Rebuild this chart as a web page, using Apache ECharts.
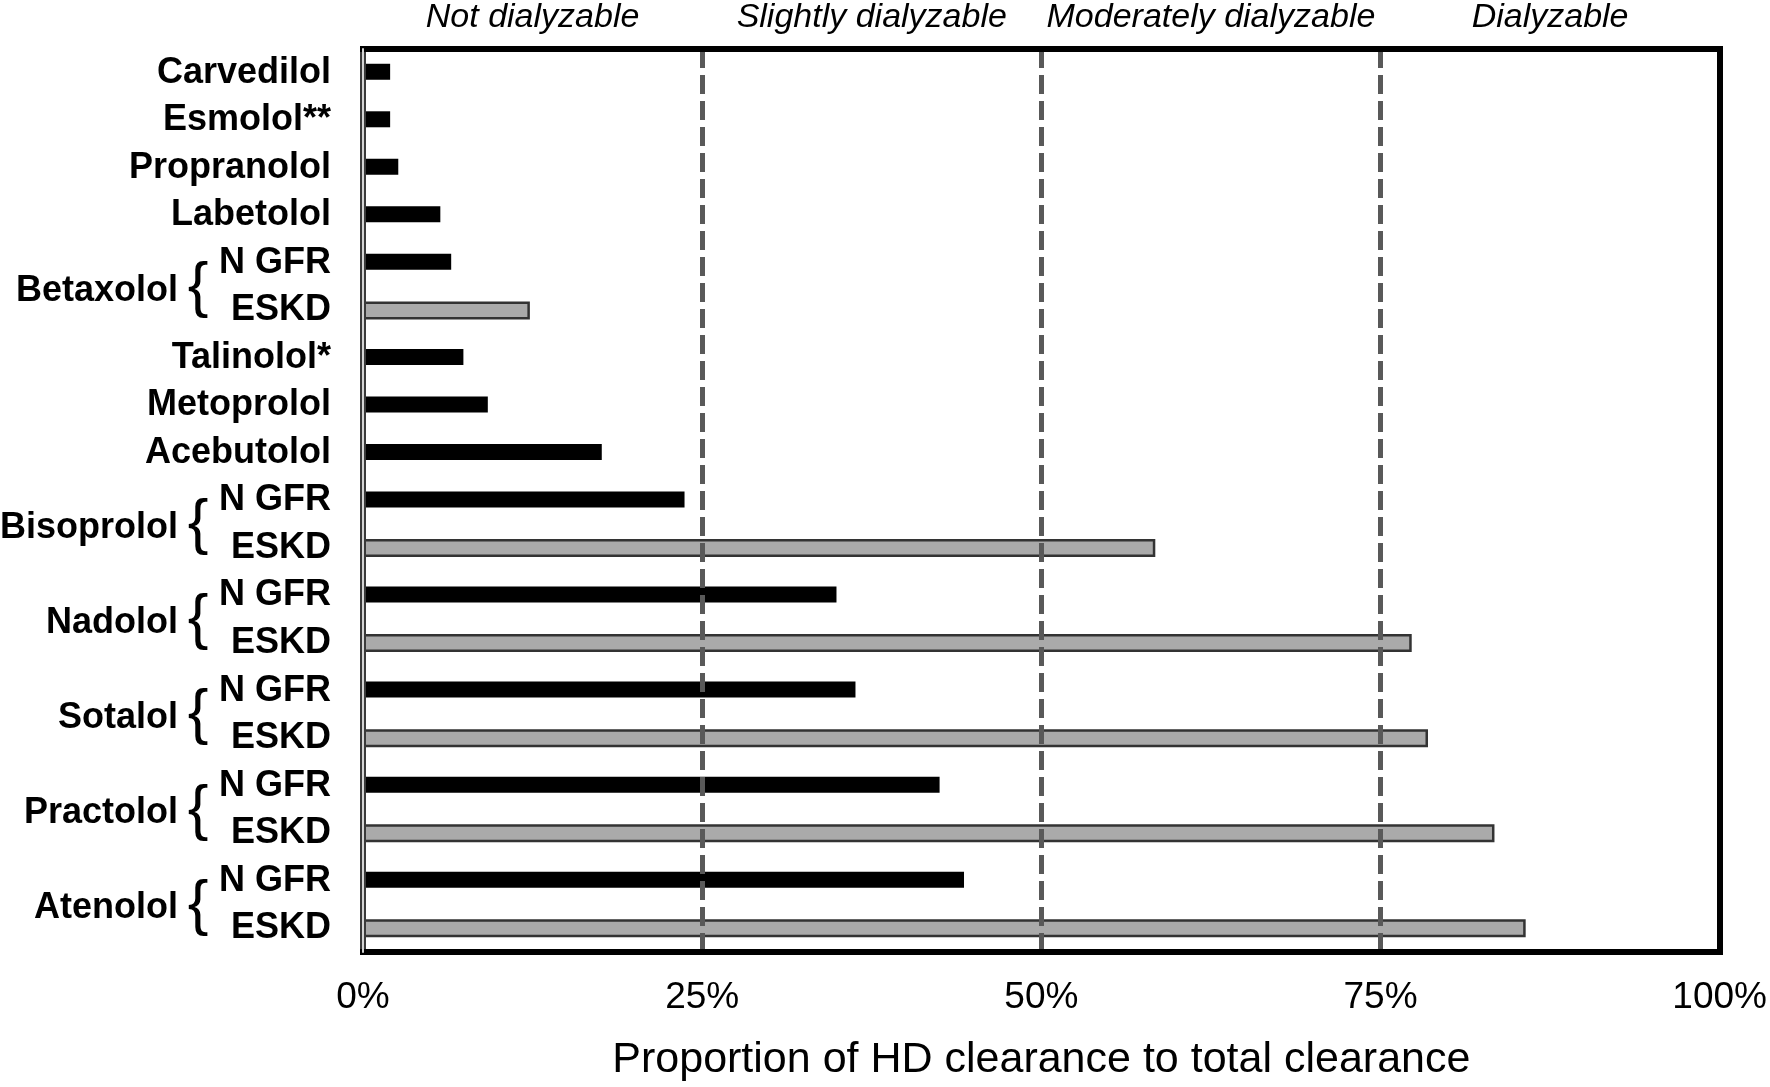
<!DOCTYPE html>
<html><head><meta charset="utf-8">
<script src="https://cdn.jsdelivr.net/npm/echarts@6/dist/echarts.min.js"></script>
<style>html,body{margin:0;padding:0;background:#fff}#c{width:1770px;height:1087px}</style>
</head><body><div id="c"></div>
<script>
// ---- data ----
const categories = ['Carvedilol','Esmolol**','Propranolol','Labetolol','Betaxolol|N GFR','Betaxolol|ESKD','Talinolol*','Metoprolol','Acebutolol','Bisoprolol|N GFR','Bisoprolol|ESKD','Nadolol|N GFR','Nadolol|ESKD','Sotalol|N GFR','Sotalol|ESKD','Practolol|N GFR','Practolol|ESKD','Atenolol|N GFR','Atenolol|ESKD'];
const normalGfr = [2.0, 2.0, 2.6, 5.7, 6.5, null, 7.4, 9.2, 17.6, 23.7, null, 34.9, null, 36.3, null, 42.5, null, 44.3, null];
const eskd = [null, null, null, null, null, 12.3, null, null, null, null, 58.4, null, 77.3, null, 78.5, null, 83.4, null, 85.7];
const zoneNames = ['Not dialyzable','Slightly dialyzable','Moderately dialyzable','Dialyzable'];
const zoneBounds = [0, 25, 50, 75, 100];
const thresholds = [25, 50, 75];
const xTickValues = [0, 25, 50, 75, 100];
const xTickLabels = ['0%','25%','50%','75%','100%'];
const axisTitle = 'Proportion of HD clearance to total clearance';

const FONT = "'Liberation Sans', Arial, Helvetica, sans-serif";
const chart = echarts.init(document.getElementById('c'), null, {renderer: 'canvas'});

const option = {
  animation: false,
  backgroundColor: '#fff',
  grid: {left: 363, right: 47, top: 49, bottom: 130},
  xAxis: [
    {type: 'value', min: 0, max: 100, interval: 25, position: 'bottom', z: 10,
     axisLine: {show: true, onZero: false, lineStyle: {color: '#000', width: 6, cap: 'square'}},
     axisTick: {show: false}, splitLine: {show: false},
     axisLabel: {formatter: v => { const i = xTickValues.indexOf(v); return i >= 0 ? xTickLabels[i] : ''; },
                 fontSize: 37, color: '#000', fontFamily: FONT, margin: 27, showMinLabel: true, showMaxLabel: true},
     name: axisTitle, nameLocation: 'middle', nameGap: 87,
     nameTextStyle: {fontSize: 43, color: '#000', fontFamily: FONT}},
    {type: 'value', min: 0, max: 100, position: 'top', z: 10,
     axisLine: {show: true, onZero: false, lineStyle: {color: '#000', width: 6, cap: 'square'}},
     axisTick: {show: false}, axisLabel: {show: false}, splitLine: {show: false}}
  ],
  yAxis: [
    {type: 'category', data: categories, inverse: true, position: 'left', z: 10,
     axisLine: {show: true, onZero: false, lineStyle: {color: '#3a3a3a', width: 6}},
     axisTick: {show: false}, splitLine: {show: false},
     axisLabel: {formatter: v => v.split('|').pop(), fontSize: 36, fontWeight: 'bold', color: '#000', fontFamily: FONT, margin: 32}},
    {type: 'category', data: categories, inverse: true, position: 'right', z: 10,
     axisLine: {show: true, onZero: false, lineStyle: {color: '#000', width: 6, cap: 'square'}},
     axisTick: {show: false}, axisLabel: {show: false}, splitLine: {show: false}},
    {type: 'category', data: categories, inverse: true, position: 'left', z: 11,
     axisLine: {show: true, onZero: false, lineStyle: {color: '#d4d4d4', width: 2}},
     axisTick: {show: false}, axisLabel: {show: false}, splitLine: {show: false}}
  ],
  series: [
    {type: 'bar', name: 'N GFR', data: normalGfr, barWidth: 16, barGap: '-100%',
     itemStyle: {color: '#000'},
     markLine: {silent: true, symbol: 'none', label: {show: false},
       lineStyle: {color: '#595959', width: 5, type: [19, 7]},
       data: thresholds.map(t => ({xAxis: t}))},
     markArea: {silent: true, itemStyle: {color: 'rgba(0,0,0,0)'},
       label: {show: true, position: 'top', distance: 14, fontSize: 34, fontStyle: 'italic', color: '#000', fontFamily: FONT},
       data: zoneNames.map((n, i) => [{name: n, xAxis: zoneBounds[i]}, {xAxis: zoneBounds[i + 1]}])}
    },
    {type: 'bar', name: 'ESKD', data: eskd, barWidth: 18, barGap: '-100%',
     itemStyle: {color: '#aaaaaa', borderColor: '#333', borderWidth: 2.5}}
  ]
};
chart.setOption(option);

// group labels with braces, positioned from the category axis
const groups = [];
categories.forEach((c, i) => {
  if (c.indexOf('|') >= 0) {
    const g = c.split('|')[0];
    let grp = groups.find(x => x.name === g);
    if (!grp) { grp = {name: g, rows: []}; groups.push(grp); }
    grp.rows.push(i);
  }
});
const x0 = chart.convertToPixel({xAxisIndex: 0}, 0);
const graphics = [];
groups.forEach(g => {
  const ys = g.rows.map(r => chart.convertToPixel({yAxisIndex: 0}, r));
  const yMid = (ys[0] + ys[ys.length - 1]) / 2;
  graphics.push({type: 'text', x: x0 - 185, y: yMid + 4, style: {text: g.name, fontSize: 36, fontWeight: 'bold', fontFamily: FONT, align: 'right', verticalAlign: 'middle', fill: '#000'}});
  graphics.push({type: 'text', x: x0 - 165, y: yMid + 1, style: {text: '{', fontSize: 62, fontFamily: FONT, align: 'center', verticalAlign: 'middle', fill: '#000'}});
});
chart.setOption({graphic: graphics});
</script>
</body></html>
